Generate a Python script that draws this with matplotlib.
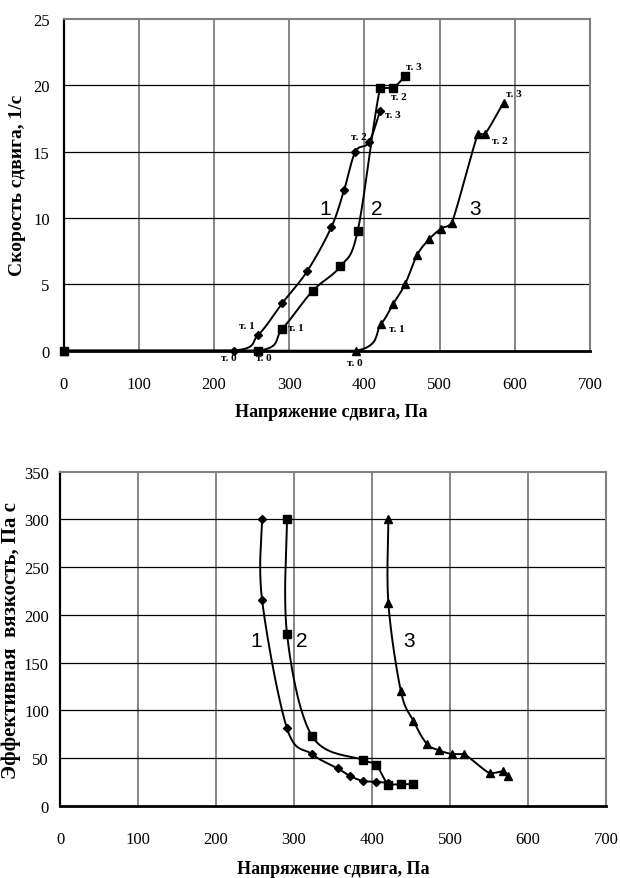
import numpy as np
import matplotlib.pyplot as plt

# --- верхний график: скорость сдвига от напряжения сдвига
tau1 = [0, 226, 259, 291, 324, 356, 373, 388, 406, 421]
gam1 = [0, 0, 1.2, 3.6, 6.0, 9.3, 12.1, 15.0, 15.7, 18.1]
tau2 = [0, 259, 291, 331, 368, 391, 421, 438, 454]
gam2 = [0, 0, 1.65, 4.5, 6.35, 9.0, 19.8, 19.8, 20.7]
tau3 = [0, 389, 422, 438, 454, 470, 486, 502, 516, 551, 560, 585]
gam3 = [0, 0, 2.0, 3.5, 5.0, 7.2, 8.4, 9.2, 9.6, 16.35, 16.3, 18.7]

# --- нижний график: эффективная вязкость от напряжения сдвига
vt1 = [259, 259, 291, 323, 356, 372, 388, 405, 420]
vis1 = [300, 216, 81, 54, 39, 31, 26, 25, 24]
vt2 = [291, 291, 323, 388, 405, 421, 437, 453]
vis2 = [300, 180, 73, 48, 43, 22, 22.5, 22.5]
vt3 = [421, 421, 437, 453, 470, 486, 503, 518, 551, 568, 574]
vis3 = [300, 212, 120, 89, 65, 58, 54, 54, 34, 36, 31]

point_names = ['т. 0', 'т. 1', 'т. 2', 'т. 3']


def smooth(x, y, n=24, clamp_x=True):
    # сглаженная линия через точки (Безье) без выбросов за пределы отрезка
    p = np.column_stack([x, y]).astype(float)
    m = len(p)
    out = [p[0]]
    t = np.linspace(0, 1, n)[1:, None]
    for i in range(m - 1):
        p0 = p[i - 1] if i > 0 else p[i]
        p3 = p[i + 2] if i + 2 < m else p[i + 1]
        lo = np.minimum(p[i], p[i + 1])
        hi = np.maximum(p[i], p[i + 1])
        if not clamp_x:
            lo[0], hi[0] = -np.inf, np.inf
        c1 = np.clip(p[i] + (p[i + 1] - p0) / 6, lo, hi)
        c2 = np.clip(p[i + 1] - (p3 - p[i]) / 6, lo, hi)
        seg = ((1 - t)**3 * p[i] + 3 * (1 - t)**2 * t * c1
               + 3 * (1 - t) * t**2 * c2 + t**3 * p[i + 1])
        out.extend(seg)
    out = np.array(out)
    return out[:, 0], out[:, 1]


def style_axes(ax, xmax, ymax, ystep):
    ax.set_xlim(0, xmax)
    ax.set_ylim(0, ymax)
    ax.set_xticks(np.arange(0, xmax + 1, 100))
    ax.set_yticks(np.arange(0, ymax + 0.1, ystep))
    for v in np.arange(100, xmax, 100):
        ax.axvline(v, color='#666666', lw=1.1, zorder=1)
    for v in np.arange(ystep, ymax, ystep):
        ax.axhline(v, color='black', lw=0.9, zorder=1)
    ax.spines['left'].set_color('black')
    ax.spines['left'].set_linewidth(1.6)
    ax.spines['bottom'].set_color('black')
    ax.spines['bottom'].set_linewidth(2.0)
    ax.spines['top'].set_color('#808080')
    ax.spines['right'].set_color('#808080')
    ax.spines['top'].set_linewidth(1.5)
    ax.spines['right'].set_linewidth(1.5)
    ax.tick_params(length=0, labelsize=12)
    ax.tick_params(axis='x', pad=18)
    for lab in ax.get_xticklabels() + ax.get_yticklabels():
        lab.set_fontfamily('Liberation Serif')


title_kw = dict(fontweight='bold', family='Liberation Serif')

fig = plt.figure(figsize=(6.2, 8.79), dpi=100)

ax1 = fig.add_axes([0.1026, 0.5999, 0.849, 0.3774])
style_axes(ax1, 700, 25, 5)
ax1.tick_params(axis='y', pad=10)

top_series = [(tau1, gam1, 'D', 4, [1, 2, 7, 9], [(-5, -7), (-12, 9), (3, 15), (13, -4)]),
              (tau2, gam2, 's', 6, [1, 2, 7, 8], [(5, -7), (13, 1), (6, -9), (9, 10)]),
              (tau3, gam3, '^', 6, [1, 2, 10, 11], [(-1, -12), (16, -4), (15, -6), (10, 9)])]
for x, y, mk, ms, idx, offs in top_series:
    sx, sy = smooth(x, y)
    ax1.plot(sx, sy, color='black', lw=1.4, zorder=3, clip_on=False)
    ax1.plot(x, y, ls='none', marker=mk, ms=ms, color='black', zorder=4, clip_on=False)
    for name, i, off in zip(point_names, idx, offs):
        ax1.annotate(name, (x[i], y[i]), xytext=off, textcoords='offset pixels',
                     ha='center', va='center', fontsize=8, fontweight='bold',
                     family='Liberation Serif', zorder=5)

for txt, xv in zip(['1', '2', '3'], [348, 416, 547]):
    ax1.text(xv, 10.7, txt, fontsize=15, family='Liberation Sans',
             ha='center', va='center')

fig.text(331 / 620, 1 - 413 / 879, 'Напряжение сдвига, Па', fontsize=13,
         ha='center', va='center', **title_kw)
fig.text(22 / 620, 1 - 185 / 879, 'Скорость сдвига, 1/с', fontsize=14,
         rotation=90, rotation_mode='anchor', ha='center', va='baseline',
         **title_kw)

ax2 = fig.add_axes([0.0968, 0.0823, 0.8806, 0.38])
style_axes(ax2, 700, 350, 50)
ax2.tick_params(axis='y', pad=8)

for x, y, mk, ms in [(vt1, vis1, 'D', 4), (vt2, vis2, 's', 6), (vt3, vis3, '^', 6)]:
    sx, sy = smooth(x, y, clamp_x=False)
    ax2.plot(sx, sy, color='black', lw=1.4, zorder=3)
    ax2.plot(x, y, ls='none', marker=mk, ms=ms, color='black', zorder=4)

for txt, xv in zip(['1', '2', '3'], [251, 310, 447]):
    ax2.text(xv, 173, txt, fontsize=15, family='Liberation Sans',
             ha='center', va='center')

fig.text(333 / 620, 1 - 870 / 879, 'Напряжение сдвига, Па', fontsize=13,
         ha='center', va='center', **title_kw)
fig.text(16 / 620, 1 - 641 / 879, 'Эффективная  вязкость, Па с', fontsize=15,
         rotation=90, rotation_mode='anchor', ha='center', va='baseline',
         **title_kw)

fig.savefig('out.png', dpi=100)
